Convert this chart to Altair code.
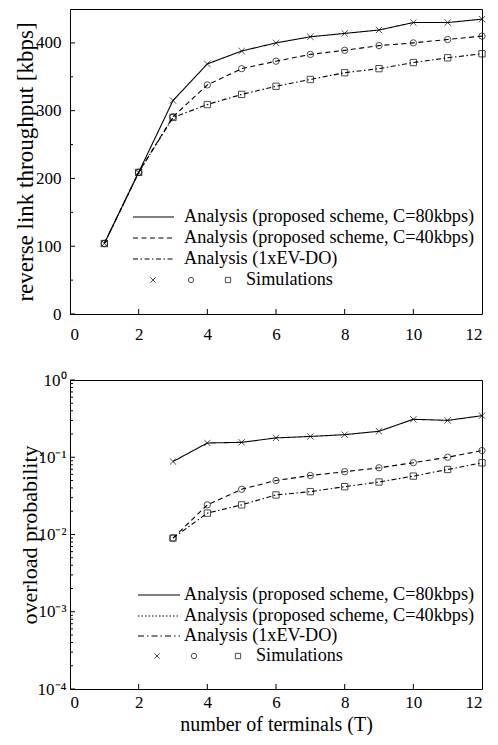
import altair as alt
import pandas as pd

# ---------------- data ----------------
terminals = [1, 2, 3, 4, 5, 6, 7, 8, 9, 10, 11, 12]
thr_80 = [104, 209, 315, 369, 388, 400, 409, 414, 419, 430, 430, 435]
thr_40 = [104, 209, 291, 338, 362, 373, 383, 389, 396, 400, 405, 410]
thr_evdo = [104, 209, 290, 309, 324, 336, 346, 356, 362, 371, 378, 384]

ov_terminals = [3, 4, 5, 6, 7, 8, 9, 10, 11, 12]
ov_80 = [0.088, 0.153, 0.156, 0.178, 0.186, 0.196, 0.217, 0.31, 0.30, 0.345]
ov_40 = [0.0090, 0.0242, 0.0385, 0.050, 0.058, 0.065, 0.073, 0.085, 0.100, 0.122]
ov_evdo = [0.0090, 0.0189, 0.0242, 0.0325, 0.0359, 0.0416, 0.0478, 0.057, 0.0695, 0.0847]

series_top = ["Analysis (proposed scheme, C=80kbps)",
              "Analysis (proposed scheme, C=40kbps)",
              "Analysis (1xEV-DO)"]
sim_label = "Simulations"

x_ticks = [0, 2, 4, 6, 8, 10, 12]
x_inner_ticks = [2, 4, 6, 8, 10]
thr_major = [0, 100, 200, 300, 400]
thr_minor = [50, 150, 250, 350]
ov_major = [0.0001, 0.001, 0.01, 0.1, 1]
ov_minor = [m * d for d in [0.0001, 0.001, 0.01, 0.1] for m in [2, 3, 4, 5, 6, 7, 8, 9]]

FONT = "Liberation Serif"
CROSS = "M-1,-1L1,1M-1,1L1,-1"
SHAPES = [CROSS, "circle", "square"]

W = 412
H_TOP = 305
H_BOT = 309
LEG_FS = 18.2


def long_df(xs, ys_list, names):
    rows = []
    for name, ys in zip(names, ys_list):
        for x, y in zip(xs, ys):
            rows.append({"T": x, "v": y, "series": name})
    return pd.DataFrame(rows)


top_df = long_df(terminals, [thr_80, thr_40, thr_evdo], series_top)
bot_df = long_df(ov_terminals, [ov_80, ov_40, ov_evdo], series_top)


def make_panel(df, yscale, yaxis, height, dashes, major, minor, show_xtitle,
               xlabelpad, legend_pos):
    xs = alt.X("T:Q", scale=alt.Scale(domain=[0, 12], nice=False),
               axis=alt.Axis(values=x_ticks, ticks=False, domain=False, grid=False,
                             labelPadding=xlabelpad,
                             title="number of terminals (T)" if show_xtitle else None,
                             titlePadding=4))
    ys = alt.Y("v:Q", scale=yscale, axis=yaxis)
    base = alt.Chart(df)
    lines = base.mark_line(color="black", strokeWidth=1.1).encode(
        x=xs, y=ys,
        strokeDash=alt.StrokeDash("series:N",
                                  scale=alt.Scale(domain=series_top, range=dashes),
                                  legend=None),
        detail="series:N")
    pts = base.mark_point(color="black", filled=False, size=40, strokeWidth=1).encode(
        x=xs, y=ys,
        shape=alt.Shape("series:N", scale=alt.Scale(domain=series_top, range=SHAPES),
                        legend=None))
    # inward ticks
    xt = alt.Chart(pd.DataFrame({"t": x_inner_ticks})).mark_rule(color="black").encode(
        x=alt.X("t:Q", scale=alt.Scale(domain=[0, 12], nice=False)),
        y=alt.value(height), y2=alt.value(height - 5))
    ymaj = alt.Chart(pd.DataFrame({"t": major})).mark_rule(color="black").encode(
        y=alt.Y("t:Q", scale=yscale), x=alt.value(0), x2=alt.value(5))
    ymin = alt.Chart(pd.DataFrame({"t": minor})).mark_rule(color="black").encode(
        y=alt.Y("t:Q", scale=yscale), x=alt.value(0), x2=alt.value(3))

    # manual legend
    lx0, lx1, tx, rows, mxs, stx = legend_pos
    leg = []
    one = pd.DataFrame({"a": [0]})
    for i, name in enumerate(series_top):
        leg.append(alt.Chart(one).mark_rule(
            color="black", strokeWidth=1.1, strokeDash=dashes[i]).encode(
            x=alt.value(lx0), x2=alt.value(lx1), y=alt.value(rows[i])))
        leg.append(alt.Chart(one).mark_text(
            align="left", baseline="middle", font=FONT, fontSize=LEG_FS, color="black").encode(
            x=alt.value(tx), y=alt.value(rows[i]), text=alt.value(name)))
        leg.append(alt.Chart(one).mark_point(
            color="black", filled=False, size=28, strokeWidth=1, shape=SHAPES[i]).encode(
            x=alt.value(mxs[i]), y=alt.value(rows[3])))
    leg.append(alt.Chart(one).mark_text(
        align="left", baseline="middle", font=FONT, fontSize=LEG_FS, color="black").encode(
        x=alt.value(stx), y=alt.value(rows[3]), text=alt.value(sim_label)))

    return alt.layer(lines, pts, xt, ymaj, ymin, *leg).properties(width=W, height=height)


top = make_panel(
    top_df,
    alt.Scale(domain=[0, 450], nice=False, zero=True),
    alt.Axis(values=thr_major, ticks=False, domain=False, grid=False, labelPadding=9,
             title="reverse link throughput [kbps]", titlePadding=-2, titleFontSize=23),
    H_TOP,
    [[1, 0], [5, 3.5], [5, 2.5, 1.5, 2.5]],
    thr_major, thr_minor, False, 12,
    (63, 104, 114, [208, 229, 250, 271], [83, 121, 158], 176),
)

label_expr = ("datum.value >= 0.5 ? '10⁰' : datum.value >= 0.05 ? '10⁻¹' : "
              "datum.value >= 0.005 ? '10⁻²' : datum.value >= 0.0005 ? '10⁻³' : '10⁻⁴'")

bottom = make_panel(
    bot_df,
    alt.Scale(type="log", domain=[0.0001, 1], nice=False),
    alt.Axis(values=ov_major, ticks=False, domain=False, grid=False, labelPadding=4,
             labelExpr=label_expr, title="overload probability", titlePadding=-4,
             titleFontSize=22),
    H_BOT,
    [[1, 0], [1.5, 2], [6, 3, 1.5, 3]],
    ov_major, ov_minor, True, 5,
    (68, 110, 114, [215, 236, 256, 276], [87, 124, 168], 186),
)

chart = alt.vconcat(top, bottom, spacing=66, bounds="flush").properties(
    padding={"left": 6, "top": 0, "right": 0, "bottom": 0}
).configure_view(stroke="black", strokeWidth=1).configure_axis(
    labelFont=FONT, titleFont=FONT, labelFontSize=17, titleFontSize=20,
    labelColor="black", titleColor="black", titleFontWeight="normal"
)

chart.save("out.html", embed_options={"renderer": "svg", "actions": False})
